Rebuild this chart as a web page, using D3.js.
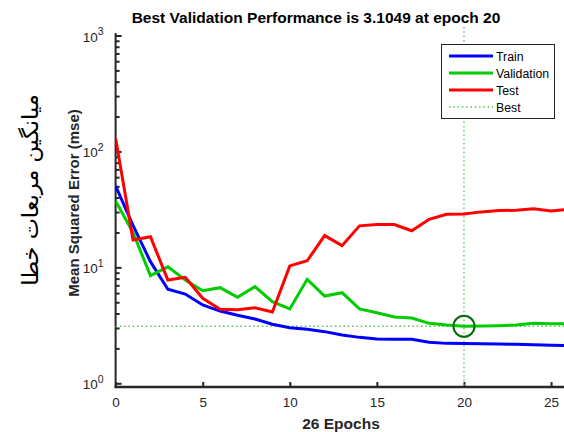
<!DOCTYPE html>
<html><head><meta charset="utf-8">
<script src="https://cdn.jsdelivr.net/npm/d3@7"></script>
<style>
html,body{margin:0;padding:0;background:#fff;}
svg{display:block;font-family:"Liberation Sans",Arial,sans-serif;}
</style></head>
<body>
<svg id="c" width="564" height="432"></svg>
<script>
const epochs = d3.range(0, 27);
const train = [50.4, 23.0, 11.2, 6.47, 5.89, 4.74, 4.20, 3.86, 3.59, 3.23, 3.02, 2.92, 2.79, 2.61, 2.49, 2.41, 2.40, 2.40, 2.26, 2.21, 2.20, 2.19, 2.18, 2.17, 2.15, 2.13, 2.11];
const validation = [37.4, 20.0, 8.48, 10.1, 7.78, 6.29, 6.68, 5.52, 6.82, 5.06, 4.38, 7.89, 5.66, 6.05, 4.38, 4.06, 3.73, 3.66, 3.29, 3.18, 3.1049, 3.12, 3.14, 3.18, 3.30, 3.27, 3.27];
const test = [130, 17.2, 18.4, 7.78, 8.2, 5.41, 4.35, 4.31, 4.49, 4.12, 10.3, 11.4, 18.8, 15.4, 22.8, 23.4, 23.4, 20.7, 26.0, 28.7, 28.9, 30.1, 30.9, 31.1, 32.1, 30.6, 31.7];
const bestEpoch = 20;
const bestValue = 3.1049;
const xTicks = [0, 5, 10, 15, 20, 25];
const yMajorExp = [0, 1, 2, 3];
const legendLabels = ["Train", "Validation", "Test", "Best"];
const titleText = "Best Validation Performance is 3.1049 at epoch 20";
const xLabel = "26 Epochs";
const yLabel = "Mean Squared Error  (mse)";
const faLabel = "میانگین مربعات خطا";

const svg = d3.select("#c");
const L = 115.6, R = 568.5, T = 33, B = 387;
const x = d3.scaleLinear().domain([0, 26]).range([L, R]);
const y = d3.scaleLog().domain([Math.pow(10, -3.7/115.9), Math.pow(10, 3 + 2.5/115.9)]).range([B, T]);
const axCol = "#262626";

svg.append("defs").append("clipPath").attr("id","clip").append("rect")
  .attr("x", L).attr("y", T - 8).attr("width", R - L).attr("height", B - T + 8);

// Y axis ticks
const yMaj = yMajorExp.map(e => Math.pow(10, e));
const yMin = [];
[0,1,2].forEach(e => { for (let k = 2; k <= 9; k++) yMin.push(k * Math.pow(10, e)); });
const gy = svg.append("g").attr("transform", `translate(${L},0)`);
gy.call(d3.axisLeft(y).tickValues(yMaj).tickSize(-6).tickFormat(""));
const gy2 = svg.append("g").attr("transform", `translate(${L},0)`);
gy2.call(d3.axisLeft(y).tickValues(yMin).tickSize(-4).tickFormat(""));
[gy, gy2].forEach(g => {
  g.select(".domain").remove();
  g.selectAll(".tick line").attr("stroke", axCol).attr("stroke-width", 2);
});
yMajorExp.forEach(e => {
  const t = svg.append("text").attr("x", L - 12).attr("y", y(Math.pow(10, e)) + 6)
    .attr("text-anchor", "end").attr("fill", axCol).attr("font-size", 13.5);
  t.append("tspan").text("10");
  t.append("tspan").attr("dy", -6.5).attr("font-size", 10.5).text(String(e));
});

// X axis
const gx = svg.append("g").attr("transform", `translate(0,${B})`);
gx.call(d3.axisBottom(x).tickValues(xTicks).tickSize(-5).tickPadding(10));
gx.select(".domain").remove();
gx.selectAll(".tick line").attr("stroke", axCol).attr("stroke-width", 2);
gx.selectAll(".tick text").attr("fill", axCol).attr("font-size", 13.5)
  .attr("font-family", "Liberation Sans, Arial, sans-serif");

svg.append("line").attr("x1", L).attr("x2", L).attr("y1", T).attr("y2", B + 1)
  .attr("stroke", axCol).attr("stroke-width", 2);
svg.append("line").attr("x1", L - 1).attr("x2", R).attr("y1", B).attr("y2", B)
  .attr("stroke", axCol).attr("stroke-width", 2.5);

// best lines
const bestCol = "#5cbf5c";
svg.append("line").attr("x1", x(bestEpoch)).attr("x2", x(bestEpoch)).attr("y1", 27).attr("y2", B)
  .attr("stroke", bestCol).attr("stroke-width", 1.3).attr("stroke-dasharray", "1.5,2.8");
svg.append("line").attr("x1", x(0)).attr("x2", x(26)).attr("y1", y(bestValue)).attr("y2", y(bestValue))
  .attr("stroke", bestCol).attr("stroke-width", 1.3).attr("stroke-dasharray", "1.5,2.8");

// series
const line = d3.line().x((d, i) => x(epochs[i])).y(d => y(d));
const gl = svg.append("g").attr("clip-path", "url(#clip)");
[[train, "#0000ff"], [validation, "#00cc00"], [test, "#ff0000"]].forEach(([data, col]) => {
  gl.append("path").datum(data).attr("d", line).attr("fill", "none")
    .attr("stroke", col).attr("stroke-width", 3).attr("stroke-linejoin", "miter");
});

svg.append("circle").attr("cx", x(bestEpoch)).attr("cy", y(bestValue)).attr("r", 10.5)
  .attr("fill", "none").attr("stroke", "#006b00").attr("stroke-width", 2);

// legend
const lg = svg.append("g");
lg.append("rect").attr("x", 441.5).attr("y", 44.5).attr("width", 113).attr("height", 74)
  .attr("fill", "#fff").attr("stroke", axCol).attr("stroke-width", 1);
const lcols = ["#0000ff", "#00cc00", "#ff0000", bestCol];
legendLabels.forEach((lab, i) => {
  const yy = 56 + i * 17;
  const ln = lg.append("line").attr("x1", 449).attr("x2", 493).attr("y1", yy).attr("y2", yy)
    .attr("stroke", lcols[i]).attr("stroke-width", i < 3 ? 3 : 1.3);
  if (i === 3) ln.attr("stroke-dasharray", "1.5,2.8");
  lg.append("text").attr("x", 496).attr("y", yy + 4.5).attr("font-size", 12.3)
    .attr("fill", "#000").text(lab);
});

// title & labels
svg.append("text").attr("x", 316).attr("y", 23).attr("text-anchor", "middle")
  .attr("font-size", 15.5).attr("font-weight", "bold").attr("fill", "#000").text(titleText);
svg.append("text").attr("x", 341).attr("y", 429).attr("text-anchor", "middle")
  .attr("font-size", 15.5).attr("font-weight", "bold").attr("fill", axCol).text(xLabel);
svg.append("text").attr("transform", "translate(79,203) rotate(-90)").attr("text-anchor", "middle")
  .attr("font-size", 15).attr("font-weight", "bold").attr("fill", axCol).text(yLabel);
svg.append("text").attr("transform", "translate(38,190) rotate(-90)").attr("text-anchor", "middle")
  .attr("font-size", 22.5).attr("fill", "#000").attr("font-family", "'DejaVu Sans', sans-serif")
  .attr("direction", "rtl").text(faLabel);
</script>
</body></html>
